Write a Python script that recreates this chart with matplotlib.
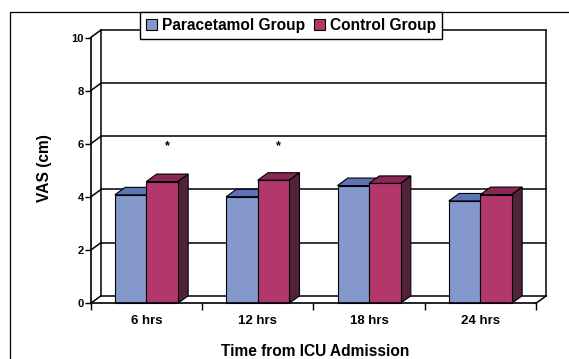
import matplotlib
matplotlib.use('Agg')
import matplotlib.pyplot as plt
from matplotlib.patches import Polygon, Rectangle, Patch

plt.rcParams['font.family'] = ['Liberation Sans', 'DejaVu Sans']
plt.rcParams['font.weight'] = 'bold'

# data
categories = ['6 hrs', '12 hrs', '18 hrs', '24 hrs']
paracetamol = [4.08, 4.01, 4.43, 3.85]
control = [4.58, 4.63, 4.51, 4.09]
series_names = ['Paracetamol Group', 'Control Group']
starred = ['6 hrs', '12 hrs']
star_y = 5.9
yticks = [0, 2, 4, 6, 8, 10]

# face colours: front, top, side
colors = [('#8598CC', '#5D73B7', '#3D4A7A'),
          ('#B2386B', '#8A2755', '#51233A')]

W, H = 569, 359
fig = plt.figure(figsize=(W / 100, H / 100), dpi=100)

# front plane of the 3d box, in pixels
x_left, x_right = 90.7, 536.0
y_bottom, y_top = 303.3, 37.5
ax = fig.add_axes([x_left / W, 1 - y_bottom / H,
                   (x_right - x_left) / W, (y_bottom - y_top) / H])
n = len(categories)
ax.set_xlim(0, n)
ax.set_ylim(0, 10)

# depth offset, pixels -> data units
DX = 10.3 / (x_right - x_left) * n
DY = 7.5 / (y_bottom - y_top) * 10

line_kw = dict(color='black', lw=1.1, clip_on=False, zorder=1)

# back wall gridlines and side wall diagonals
for v in yticks:
    ax.plot([DX, n + DX], [v + DY, v + DY], **line_kw)
    ax.plot([0, DX], [v, v + DY], **line_kw)
ax.plot([DX, DX], [DY, 10 + DY], **line_kw)
ax.plot([n + DX, n + DX], [DY, 10 + DY], **line_kw)
ax.plot([n, n + DX], [0, DY], **line_kw)

# bars
bw = 0.283
edge = dict(edgecolor='black', lw=0.8, clip_on=False, zorder=3)
for i in range(n):
    for j, vals in enumerate([paracetamol, control]):
        v = vals[i]
        x0 = i + 0.5 - bw + j * bw
        front, top, side = colors[j]
        ax.add_patch(Polygon([(x0, v), (x0 + DX, v + DY),
                              (x0 + bw + DX, v + DY), (x0 + bw, v)],
                             facecolor=top, **edge))
        ax.add_patch(Polygon([(x0 + bw, 0), (x0 + bw + DX, DY),
                              (x0 + bw + DX, v + DY), (x0 + bw, v)],
                             facecolor=side, **edge))
        ax.add_patch(Rectangle((x0, 0), bw, v, facecolor=front, **edge))

for c in starred:
    i = categories.index(c)
    ax.text(i + 0.5 + bw / 2 + DX / 2, star_y, '*', ha='center', va='center',
            fontsize=9, fontweight='bold', zorder=4)

# axes, ticks
for s in ['top', 'right']:
    ax.spines[s].set_visible(False)
for s in ['left', 'bottom']:
    ax.spines[s].set_linewidth(1.2)
    ax.spines[s].set_zorder(5)
ax.set_facecolor('none')
ax.set_yticks(yticks)
ax.set_yticklabels([str(t) for t in yticks], fontsize=8, fontweight='bold')
ax.tick_params(axis='y', length=4, width=1, pad=1)
ax.set_xticks(range(n + 1))
ax.set_xticklabels([])
ax.tick_params(axis='x', which='major', length=5, width=1)
ax.set_xticks([i + 0.5 for i in range(n)], minor=True)
ax.set_xticklabels(categories, minor=True, fontsize=9.5, fontweight='bold')
ax.tick_params(axis='x', which='minor', length=0, pad=8.5)

fig.text(314.7 / W, 1 - 351 / H, 'Time from ICU Admission', ha='center',
         va='center', fontsize=11.2, fontweight='bold')
fig.text(45 / W, 1 - 168 / H, 'VAS (cm)', ha='center', va='center',
         rotation=90, fontsize=11.2, fontweight='bold')

# outer border, cut off at right and bottom
fig.add_artist(Rectangle((10 / W, -0.5), 2, 1 - 11.7 / H + 0.5, fill=False,
                         edgecolor='black', lw=0.9, transform=fig.transFigure,
                         zorder=1))

handles = [Patch(facecolor=colors[k][0], edgecolor='black', lw=0.8)
           for k in range(2)]
leg = fig.legend(handles, series_names, loc='upper center',
                 bbox_to_anchor=(291 / W, 1 - 11.7 / H), ncol=2,
                 frameon=True, fancybox=False, edgecolor='black',
                 framealpha=1, handlelength=0.7, handleheight=0.75,
                 handletextpad=0.3, columnspacing=0.6, borderpad=0.4,
                 borderaxespad=0, prop={'size': 11.2, 'weight': 'bold'})
leg.get_frame().set_linewidth(1.0)
leg.set_zorder(10)

fig.savefig('out.png', dpi=100)
